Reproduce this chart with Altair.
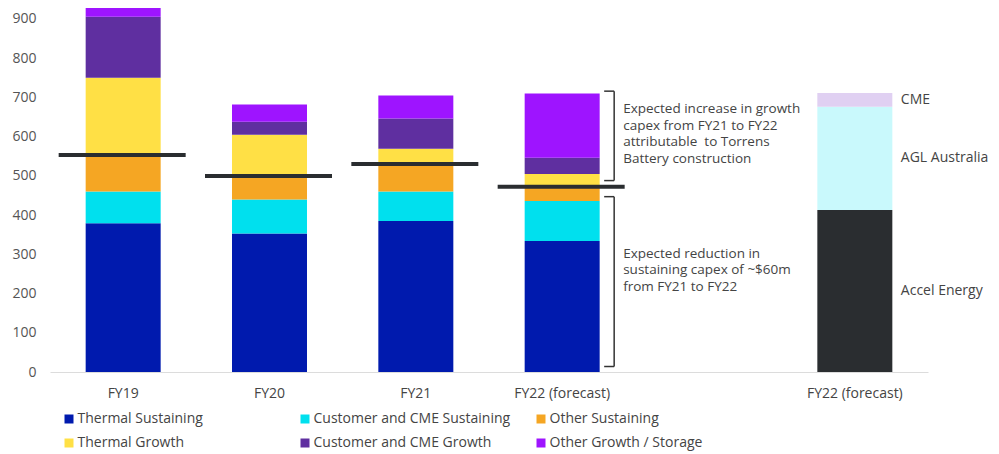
import altair as alt
import pandas as pd

# ---- data ----
years = ["FY19", "FY20", "FY21", "FY22 (forecast)"]
series = ["Thermal Sustaining", "Customer and CME Sustaining", "Other Sustaining",
          "Thermal Growth", "Customer and CME Growth", "Other Growth / Storage"]
thermal_sustaining = [379, 353, 385, 334]
customer_cme_sustaining = [81, 87, 75, 102]
other_sustaining = [93, 60, 70, 36]
thermal_growth = [197, 105, 39, 33]
customer_cme_growth = [156, 33, 77, 41]
other_growth_storage = [30, 44, 59, 164]
sustaining_total = [553, 500, 530, 472]

split_category = "FY22 (forecast)  "
split_segments = ["Accel Energy", "AGL Australia", "CME"]
split_values = [413, 263, 35]

series_colors = ["#001aae", "#00e0ee", "#f5a623", "#ffe045", "#5f2fa0", "#9e14ff"]
split_colors = ["#2a2d30", "#c9f9fc", "#e0d0f2"]

growth_note = "Expected increase in growth\ncapex from FY21 to FY22\nattributable \u00a0to Torrens\nBattery construction"
sustain_note = "Expected reduction in\nsustaining capex of ~$60m\nfrom FY21 to FY22"
bracket_low = [488, 14]
bracket_high = [716, 447]
note_y = [670, 302]

# ---- tables ----
values_by_series = [thermal_sustaining, customer_cme_sustaining, other_sustaining,
                    thermal_growth, customer_cme_growth, other_growth_storage]
rows = []
for si, (s, vals) in enumerate(zip(series, values_by_series)):
    for y, v in zip(years, vals):
        rows.append({"cat": y, "series": s, "value": v, "ord": si})
for si, (s, v) in enumerate(zip(split_segments, split_values)):
    rows.append({"cat": split_category, "series": s, "value": v, "ord": si})
bars_df = pd.DataFrame(rows)

lines_df = pd.DataFrame({"cat": years, "value": sustaining_total})

cum = 0
lab_rows = []
for s, v in zip(split_segments, split_values):
    lab_rows.append({"cat": split_category, "label": s, "mid": cum + v / 2})
    cum += v
labels_df = pd.DataFrame(lab_rows)

brackets_df = pd.DataFrame({"cat": [years[-1]] * 2, "lo": bracket_low, "hi": bracket_high})
arms_df = pd.DataFrame({"cat": [years[-1]] * 4, "value": bracket_low + bracket_high})
notes_df = pd.DataFrame({"cat": [years[-1]] * 2, "note": [growth_note, sustain_note], "y": note_y})

cat_domain = years + [" ", split_category]
FONT = "Open Sans"

x_scale = alt.Scale(domain=cat_domain, paddingInner=0.4875, paddingOuter=0.24375)
y_scale = alt.Scale(domain=[0, 928], nice=False)

x_axis = alt.Axis(title=None, labelAngle=0, ticks=False, domainColor="#dcdcdc",
                  labelFontSize=14, labelColor="#444444", labelPadding=14, labelFont=FONT)
y_axis = alt.Axis(title=None, values=list(range(0, 1000, 100)), grid=False, domain=False,
                  ticks=False, labelFontSize=14, labelColor="#555555", labelPadding=14,
                  labelFont=FONT)

bars = alt.Chart(bars_df).mark_bar().encode(
    x=alt.X("cat:N", scale=x_scale, axis=x_axis, sort=cat_domain),
    y=alt.Y("value:Q", scale=y_scale, axis=y_axis, stack="zero"),
    color=alt.Color("series:N",
                    scale=alt.Scale(domain=series + split_segments,
                                    range=series_colors + split_colors),
                    legend=alt.Legend(orient="none", legendX=12, legendY=404, columns=3,
                                      direction="horizontal", gridAlign="all",
                                      columnPadding=23, rowPadding=10, symbolType="square",
                                      symbolSize=81, symbolStrokeWidth=0, labelFontSize=14,
                                      labelFont=FONT, labelColor="#444444", labelOffset=1.5,
                                      title=None, values=series, padding=0, labelLimit=300)),
    order=alt.Order("ord:Q"),
)

ticks = alt.Chart(lines_df).mark_tick(size=127, thickness=4, color="#2a2d30", opacity=1,
                                      xOffset=-1).encode(
    x=alt.X("cat:N", sort=cat_domain),
    y=alt.Y("value:Q"),
)

bracket_lines = alt.Chart(brackets_df).mark_rule(color="#333333", strokeWidth=1.5, xOffset=52).encode(
    x=alt.X("cat:N", sort=cat_domain),
    y="lo:Q",
    y2="hi:Q",
)

bracket_arms = alt.Chart(arms_df).mark_tick(size=10, thickness=1.5, color="#333333", opacity=1,
                                            xOffset=47).encode(
    x=alt.X("cat:N", sort=cat_domain),
    y="value:Q",
)

notes = alt.Chart(notes_df).mark_text(align="left", baseline="middle", xOffset=61, fontSize=13.5,
                                       lineHeight=16.5, lineBreak="\n", color="#444444",
                                       font=FONT).encode(
    x=alt.X("cat:N", sort=cat_domain),
    y="y:Q",
    text="note:N",
)

split_labels = alt.Chart(labels_df).mark_text(align="left", baseline="middle", xOffset=46,
                                              fontSize=14, color="#444444", font=FONT).encode(
    x=alt.X("cat:N", sort=cat_domain),
    y="mid:Q",
    text="label:N",
)

chart = alt.layer(bars, ticks, bracket_lines, bracket_arms, notes, split_labels).properties(
    width=878, height=364,
    padding={"left": 42, "top": 0, "right": 63, "bottom": 84},
    autosize="none",
).configure_view(strokeOpacity=0)

chart.save("out.html", embed_options={"renderer": "svg", "actions": False})
